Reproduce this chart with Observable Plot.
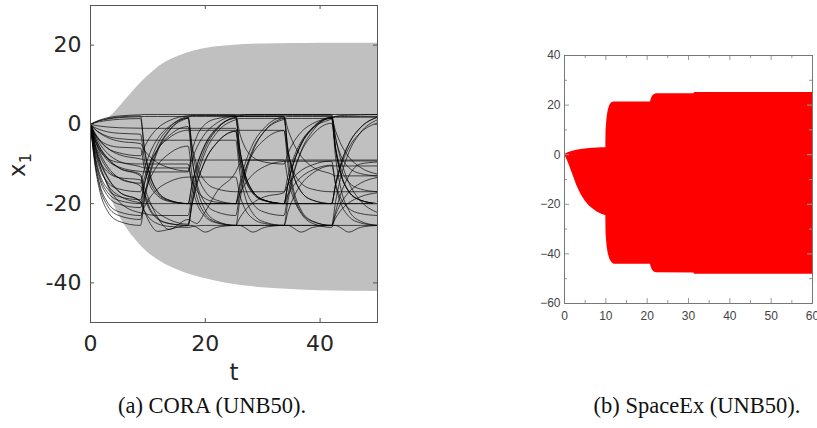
<!DOCTYPE html>
<html>
<head>
<meta charset="utf-8">
<script src="https://cdn.jsdelivr.net/npm/d3@7"></script>
<script src="https://cdn.jsdelivr.net/npm/@observablehq/plot@0.6"></script>
<style>
  html, body { margin: 0; padding: 0; background: #fff; }
  #page { position: relative; width: 817px; height: 428px; overflow: hidden; background: #fff; }
  #left { position: absolute; left: 0; top: 0; }
  #right { position: absolute; left: 520px; top: 0; }
  .cap { position: absolute; top: 395px; font-family: "Liberation Serif", "DejaVu Serif", serif; font-size: 22.5px; line-height: 22px; color: #111; text-align: center; white-space: nowrap; }
</style>
</head>
<body>
<div id="page">
  <div id="left"></div>
  <div id="right"></div>
  <div class="cap" style="left:62px;width:300px;">(a) CORA (UNB50).</div>
  <div class="cap" style="left:547px;width:300px;">(b) SpaceEx (UNB50).</div>
</div>
<script>
// ---------- Left chart (CORA) ----------
const leftXTicks = [0, 20, 40];
const leftYTicks = [-40, -20, 0, 20];

// grey reachable-set band
const bandT     = [0, 1, 2, 3, 4, 5, 6, 7.5, 9, 11, 13, 15, 18, 21, 25, 30, 35, 40, 50];
const bandUpper = [0, 0.1, 0.6, 1.5, 2.7, 4.3, 6, 8.5, 10.8, 13.5, 15.6, 17, 18.5, 19.4, 20, 20.3, 20.4, 20.5, 20.5];
const bandLower = [0, -5, -11, -16, -20, -23, -25.5, -28.5, -31, -33.5, -35.3, -36.6, -38.2, -39.3, -40.4, -41.2, -41.7, -42, -42.2];

// simulated trajectories, sampled on a common time grid
const tGrid = [0, 0.7, 1.5, 3, 5, 8.7, 9.4, 10.2, 11.7, 13.7, 17, 17.7, 18.5, 20, 22, 25.3, 26, 26.8, 28.3, 30.3, 33.7, 34.4, 35.2, 36.7, 38.7, 42, 42.7, 43.5, 45, 47, 50];
const trajectories = [
  [0, .55,1.05,1.68,2.13,2.43, 2.5,2.5,2.5,2.5,2.5, 2.5,2.5,2.5,2.5,2.5, 2.5,2.5,2.5,2.5,2.5, 2.5,2.5,2.5,2.5,2.5, 2.5,2.5,2.5,2.5,2.5],
  [0, .48,.92,1.47,1.87,2.13, -6.06,-11.81,-16.9,-19.11,-20, -15.12,-10.68,-5.13,-1.13,1.53, -6.44,-12.03,-16.99,-19.14,-20, -15.12,-10.68,-5.13,-1.13,1.53, -6.44,-12.03,-16.99,-19.14,-20],
  [0, -7.4,-12.6,-17.2,-19.2,-20, -15.05,-10.55,-4.93,-.88,1.83, -6.25,-11.92,-16.94,-19.13,-20, -15.05,-10.55,-4.93,-.88,1.83, -6.25,-11.92,-16.94,-19.13,-20, -15.05,-10.55,-4.93,-.88,1.83],
  [0, -9.44,-16.07,-21.93,-24.48,-25.5, -19.34,-13.74,-6.74,-1.7,1.66, -8.39,-15.45,-21.7,-24.41,-25.5, -25.5,-25.5,-25.5,-25.5,-25.5, -19.34,-13.74,-6.74,-1.7,1.66, -8.39,-15.45,-21.7,-24.41,-25.5],
  [0, -6,-10,-15.2,-18,-19.8, -20,-20,-20,-20,-20, -20,-20,-20,-20,-20, -20,-20,-20,-20,-20, -20,-20,-20,-20,-20, -20,-20,-20,-20,-20],
  [0, -2.86,-5.46,-8.71,-11.05,-12.61, -17.38,-20.73,-23.7,-24.98,-25.5, -20.11,-15.21,-9.09,-4.68,-1.74, -9.61,-15.13,-20.02,-22.15,-23, -17.72,-12.92,-6.92,-2.6,.28, -6.11,-10.61,-14.58,-16.31,-17],
  [0, -.22,-.42,-.67,-.85,-.97, -1,-1,-1,-1,-1, -1,-1,-1,-1,-1, -8.03,-12.97,-17.34,-19.24,-20, -15.05,-10.55,-4.93,-.88,1.83, 2,2.2,2.3,2.4,2.5],
  [0, -3.7,-6.3,-8.6,-9.6,-10, -10,-10,-10,-10,-10, -15.74,-19.77,-23.33,-24.88,-25.5, -19.34,-13.74,-6.74,-1.7,1.66, 2,2,2,2,2, -3.55,-7.45,-10.9,-12.4,-13],
  [0, -4.5,-7.5,-11.4,-13.5,-14.85, -11.14,-7.77,-3.56,-.53,1.49, -5.35,-10.16,-14.41,-16.26,-17, -17,-17,-17,-17,-17, -15.24,-13.64,-11.64,-10.2,-9.24, -9.24,-9.24,-9.24,-9.24,-9.24],
  [0, -5.06,-9.66,-15.41,-19.55,-22.31, -22.5,-22.8,-23,-23,-23, -17.39,-12.29,-5.92,-1.33,1.74, -6.3,-11.96,-16.96,-19.13,-20, -20,-20,-20,-20,-20, -15.38,-11.18,-5.93,-2.15,.37],
  [0, -1.2,-2,-3.04,-3.6,-3.96, -4,-4,-4,-4,-4, -4,-4,-4,-4,-4, -11.96,-17.55,-22.49,-24.64,-25.5, -22.09,-18.99,-15.12,-12.33,-10.47, -10.5,-10.5,-10.5,-10.5,-10.5],
  [0, -6.29,-10.71,-14.62,-16.32,-17, -13.48,-10.28,-6.28,-3.4,-1.48, -1.5,-1.5,-1.5,-1.5,-1.5, -1.5,-1.5,-1.5,-1.5,-1.5, -10.38,-16.62,-22.14,-24.54,-25.5, -19.45,-13.95,-7.08,-2.13,1.18],
  [0, .33,.63,1,1.28,1.46, -6.48,-12.06,-17,-19.14,-20, -20,-20,-20,-20,-20, -17.58,-15.38,-12.63,-10.65,-9.33, -9.3,-9.3,-9.3,-9.3,-9.3, -15.29,-19.51,-23.23,-24.85,-25.5],
  [0, -2.4,-4,-6.08,-7.2,-7.92, -5.69,-3.59,-.96,.93,2.19, 2.3,2.3,2.3,2.3,2.3, -2.25,-5.45,-8.28,-9.51,-10, -7.36,-4.96,-1.96,.2,1.64, 1.8,1.8,1.8,1.8,1.8],
  [0, -8.51,-14.49,-19.78,-22.08,-23, -20.8,-18.8,-16.3,-14.5,-13.3, -13.3,-13.3,-13.3,-13.3,-13.3, -17.81,-20.99,-23.79,-25.01,-25.5, -25.5,-25.5,-25.5,-25.5,-25.5, -22.75,-20.25,-17.13,-14.88,-13.38],
  [0, -3.52,-6.72,-10.72,-13.6,-15.52, -17.7,-19.7,-22.2,-24,-25.2, -19.22,-13.78,-6.98,-2.08,1.18, 1.5,1.5,1.5,1.5,1.5, -6.45,-12.05,-17,-19.14,-20, -20,-20,-20,-20,-20],
  [0, -2.22,-3.78,-5.16,-5.76,-6, -11.18,-14.82,-18.04,-19.44,-20, -15.05,-10.55,-4.93,-.88,1.83, 2.2,2.4,2.5,2.5,2.5, 2.5,2.5,2.5,2.5,2.5, -5.83,-11.68,-16.85,-19.1,-20],
  [0, -4.4,-8.4,-13.4,-17,-19.4, -21.84,-23.56,-25.08,-25.74,-26, -25.8,-25.6,-25.5,-25.5,-25.5, -23.63,-21.93,-19.81,-18.28,-17.26, -13.02,-9.17,-4.36,-.89,1.42, 2,2,2,2,2],
  [0, -3.6,-6,-9.12,-10.8,-11.88, -12,-12,-12,-12,-12, -8.81,-5.91,-2.29,.33,2.07, -6.1,-11.83,-16.91,-19.12,-20, -17.8,-15.8,-13.3,-11.5,-10.3, -15,-18.3,-21.22,-22.49,-23],
  [0, -7.03,-11.97,-16.34,-18.24,-19, -14.82,-11.02,-6.27,-2.85,-.57, -8.87,-14.7,-19.86,-22.1,-23, -17.5,-12.5,-6.25,-1.75,1.25, 1.5,1.5,1.5,1.5,1.5, -1.69,-4.59,-8.22,-10.83,-12.57],
  [0, -1.98,-3.78,-6.03,-7.65,-8.73, -9,-9,-9,-9,-9, -9,-9,-9,-9,-9, -9,-9,-9,-9,-9, -9,-9,-9,-9,-9, -9,-9,-9,-9,-9],
  [0, -5.18,-8.82,-12.04,-13.44,-14, -18.26,-21.25,-23.89,-25.04,-25.5, -20.11,-15.21,-9.09,-4.68,-1.74, -8.5,-13.24,-17.44,-19.27,-20, -20,-20,-20,-20,-20, -15.05,-10.55,-4.93,-.88,1.83],
  [0, .44,.84,1.34,1.7,1.94, 2,2,2,2,2, 2,2,2,2,2, 2,2,2,2,2, -8.18,-15.33,-21.65,-24.4,-25.5, -25.5,-25.5,-25.5,-25.5,-25.5],
  [0, -.75,-1.25,-1.9,-2.25,-2.48, -8.98,-13.53,-17.55,-19.3,-20, -20,-20,-20,-20,-20, -20,-20,-20,-20,-20, -15.05,-10.55,-4.93,-.88,1.83, -6.25,-11.92,-16.94,-19.13,-20],
  [0, -7.77,-13.23,-18.06,-20.16,-21, -17.48,-14.28,-10.28,-7.4,-5.48, -12.89,-18.09,-22.7,-24.7,-25.5, -25.5,-25.5,-25.5,-25.5,-25.5, -25.5,-25.5,-25.5,-25.5,-25.5, -23.63,-21.93,-19.81,-18.28,-17.26],
  [0, -1.1,-2.1,-3.35,-4.25,-4.85, -6.54,-7.94,-9.69,-10.95,-11.79, -6.69,-3.11,.07,1.45,2, 2,2,2,2,2, -1.3,-4.3,-8.05,-10.75,-12.55, -13,-13,-13,-13,-13],
  [0, -8.88,-15.12,-20.64,-23.04,-24, -18.17,-12.87,-6.25,-1.47,1.7, 2.2,2.2,2.2,2.2,2.2, 2.2,2.2,2.2,2.2,2.2, 2.2,2.2,2.2,2.2,2.2, -3.34,-8.38,-14.68,-19.22,-22.24],
  [0, -2.42,-4.62,-7.37,-9.35,-10.67, -11,-11,-11,-11,-11, -14.33,-16.67,-18.74,-19.64,-20, -15.82,-12.02,-7.27,-3.85,-1.57, -7.28,-11.29,-14.84,-16.38,-17, -17,-17,-17,-17,-17],
  [0, -5,-9,-13.5,-17,-19.5, -22,-24.5,-27,-26.5,-25.5, -25.5,-26,-27.2,-26,-25.5, -25.5,-26,-27.2,-26,-25.5, -25.5,-26,-27.2,-26,-25.5, -25.5,-26,-27.2,-26,-25.5],
  [0, -3,-5.5,-8.5,-11,-13, -16,-19,-23.5,-26.5,-24, -24.5,-25,-22,-17,-12, -10,-9,-9,-9,-9, -14,-18,-22.5,-25,-26, -22,-18,-13,-10,-9.5]
];

// ---------- Right chart (SpaceEx) ----------
const rightXMajor = [0, 10, 20, 30, 40, 50, 60];
const rightXMinor = [5, 15, 25, 35, 45, 55];
const rightYMajor = [-60, -40, -20, 0, 20, 40];
const rightYMinor = [-50, -30, -10, 10, 30];

const redT     = [0, 0.5, 1, 2, 3, 4, 5, 6, 7, 8, 9, 10, 10.05, 10.3, 10.6, 11, 11.5, 12, 20.8, 21.0, 21.3, 21.7, 22.2, 31.3, 31.5, 60];
const redUpper = [0, 0.5, 0.9, 1.4, 1.8, 2.1, 2.3, 2.5, 2.6, 2.7, 2.8, 2.85, 10, 15, 18, 20, 21, 21.3, 21.3, 22.5, 23.6, 24.2, 24.6, 24.6, 25.1, 25.1];
const redLower = [0, -1.5, -3.5, -8, -12.5, -16, -18.7, -20.7, -22, -23.2, -24, -24.6, -32, -37, -40, -42.3, -43.6, -44.2, -44.2, -45.5, -46.6, -47.3, -47.6, -47.7, -48.2, -48.2];

// ---------- build tables ----------
const band = bandT.map((t, i) => ({t, hi: bandUpper[i], lo: bandLower[i]}));
const trajRows = trajectories.flatMap((vals, id) => vals.map((x, i) => ({id, t: tGrid[i], x})));
const red = redT.map((t, i) => ({t, hi: redUpper[i], lo: redLower[i]}));

// Left plot geometry
const LW = 400, LH = 385, LmL = 90, LmR = 23, LmT = 5, LmB = 63;
const LinW = LW - LmL - LmR, LinH = LH - LmT - LmB;
const tk = 4;

const left = Plot.plot({
  width: LW, height: LH,
  marginLeft: LmL, marginRight: LmR, marginTop: LmT, marginBottom: LmB,
  x: {domain: [0, 50]},
  y: {domain: [-50, 30]},
  style: {fontFamily: "DejaVu Sans", fontSize: "22px", color: "#262626", background: "white"},
  marks: [
    Plot.areaY(band, {x: "t", y1: "lo", y2: "hi", fill: "#c0c0c0", curve: "monotone-x"}),
    Plot.line(trajRows, {x: "t", y: "x", z: "id", stroke: "black", strokeWidth: 0.8, strokeOpacity: 0.85, curve: "monotone-x"}),
    Plot.tickX(leftXTicks, {x: d => d, insetTop: LinH - tk, stroke: "#555"}),
    Plot.tickX(leftXTicks, {x: d => d, insetBottom: LinH - tk, stroke: "#555"}),
    Plot.tickY(leftYTicks, {y: d => d, insetRight: LinW - tk, stroke: "#555"}),
    Plot.tickY(leftYTicks, {y: d => d, insetLeft: LinW - tk, stroke: "#555"}),
    Plot.frame({stroke: "#555"}),
    Plot.axisX(leftXTicks, {tickSize: 0, tickPadding: 13, label: null}),
    Plot.axisY(leftYTicks, {tickSize: 0, tickPadding: 9, label: null, tickFormat: d => String(d)})
  ]
});
document.getElementById("left").appendChild(left);
{
  const svg = d3.select(left);
  svg.append("text")
    .attr("x", 234).attr("y", 380)
    .attr("text-anchor", "middle")
    .attr("font-family", "DejaVu Sans").attr("font-size", 23).attr("fill", "#262626")
    .text("t");
  const yl = svg.append("text")
    .attr("transform", "translate(25,165) rotate(-90)")
    .attr("text-anchor", "middle")
    .attr("font-family", "DejaVu Sans").attr("font-size", 23).attr("fill", "#262626");
  yl.append("tspan").text("x");
  yl.append("tspan").attr("font-size", 16).attr("dy", 6).text("1");
}

// Right plot geometry
const RW = 297, RH = 330, RmL = 44, RmR = 5, RmT = 55, RmB = 27;
const RinW = RW - RmL - RmR, RinH = RH - RmT - RmB;
const rMaj = 5, rMin = 3;

const right = Plot.plot({
  width: RW, height: RH,
  marginLeft: RmL, marginRight: RmR, marginTop: RmT, marginBottom: RmB,
  x: {domain: [0, 60]},
  y: {domain: [-60, 40]},
  style: {fontFamily: "Liberation Sans", fontSize: "12px", color: "#444", background: "white", overflow: "visible"},
  marks: [
    Plot.areaY(red, {x: "t", y1: "lo", y2: "hi", fill: "#ff0000", curve: "linear"}),
    Plot.tickX(rightXMajor, {x: d => d, insetTop: RinH - rMaj, stroke: "#999"}),
    Plot.tickX(rightXMajor, {x: d => d, insetBottom: RinH - rMaj, stroke: "#999"}),
    Plot.tickX(rightXMinor, {x: d => d, insetTop: RinH - rMin, stroke: "#999"}),
    Plot.tickX(rightXMinor, {x: d => d, insetBottom: RinH - rMin, stroke: "#999"}),
    Plot.tickY(rightYMajor, {y: d => d, insetRight: RinW - rMaj, stroke: "#999"}),
    Plot.tickY(rightYMajor, {y: d => d, insetLeft: RinW - rMaj, stroke: "#999"}),
    Plot.tickY(rightYMinor, {y: d => d, insetRight: RinW - rMin, stroke: "#999"}),
    Plot.tickY(rightYMinor, {y: d => d, insetLeft: RinW - rMin, stroke: "#999"}),
    Plot.frame({stroke: "#777"}),
    Plot.axisX(rightXMajor, {tickSize: 0, tickPadding: 8, label: null}),
    Plot.axisY(rightYMajor, {tickSize: 0, tickPadding: 4, label: null})
  ]
});
document.getElementById("right").appendChild(right);
</script>
</body>
</html>
